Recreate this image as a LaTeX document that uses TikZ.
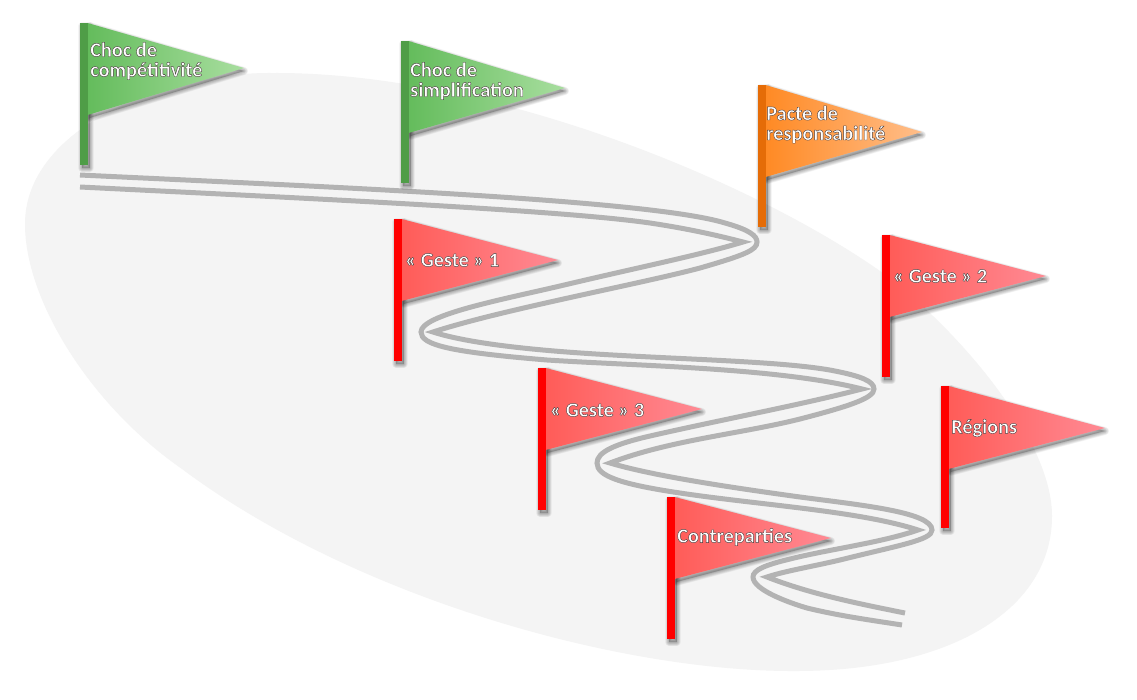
\documentclass[tikz,border=0pt]{standalone}
\usepackage{fontspec}
\setmainfont{Carlito}
\definecolor{landc}{HTML}{F4F4F4}
\definecolor{roadc}{HTML}{B3B3B3}
\definecolor{gpole}{HTML}{4F9D47}
\definecolor{gl}{HTML}{64BC5C}
\definecolor{gr}{HTML}{A8DE9F}
\definecolor{opole}{HTML}{E56C07}
\definecolor{ol}{HTML}{FF8A24}
\definecolor{or}{HTML}{FFBE8A}
\definecolor{rpole}{HTML}{FF0000}
\definecolor{rl}{HTML}{FF5C58}
\definecolor{rr}{HTML}{FF8A94}
\tikzset{
  x=1pt,y=-1pt,
  road/.style={draw=roadc,line width=5pt,line join=miter,miter limit=30,line cap=butt},
  softedge/.style={draw=black,opacity=.04,line join=round},
  softcore/.style={fill=black,opacity=.2},
  flagtext/.style={text=white,font=\bfseries\fontsize{20.3}{20}\selectfont,align=left,anchor=west,inner sep=0pt},
}
\newcommand\haloed[1]{\special{pdf:code 2 Tr 0.42 w 0.3 0.25 0.25 RG}#1\special{pdf:code 0 Tr}}
% #1 name, #2 x, #3 y, #4 tip dy, #5 bottom dy, #6 pole, #7 left, #8 right, #9 label offset
\newcommand\flagat[9]{%
  \begin{scope}[shift={(#2,#3)}]
    \begin{scope}[shift={(2,3)}]
      \path[softcore] (0,0) rectangle (7.5,142);
      \path[softcore] (7.5,0) -- (162,#4) -- (7.5,#5) -- cycle;
      \foreach \w in {1,2,3,4,5,6,7,8} {
        \path[softedge,line width=\w pt] (0,0) rectangle (7.5,142);
        \path[softedge,line width=\w pt] (7.5,0) -- (162,#4) -- (7.5,#5) -- cycle;
      }
    \end{scope}
    \path[left color=#7,right color=#8] (7.5,0) -- (164,#4) -- (7.5,#5) -- cycle;
    \fill[#6] (0,0) rectangle (7.5,142);
    \coordinate (#1) at #9;
  \end{scope}}
\begin{document}
\begin{tikzpicture}
\useasboundingbox (0,0) rectangle (1137,699);
\fill[white] (0,0) rectangle (1137,699);
\fill[landc] (25,224) .. controls (25,130) and (160,72) .. (273,73) .. controls (490,72) and (750,180) .. (880,271) .. controls (960,330) and (1052,440) .. (1052,516) .. controls (1052,610) and (950,671) .. (796,671) .. controls (620,672) and (355,598) .. (182,469) .. controls (90,405) and (25,300) .. (25,224) -- cycle;
% road
\draw[road] (80,175) .. controls (330,187) and (650,200) .. (725,223) .. controls (750,230) and (757,236) .. (757,242) .. controls (757,250) and (745,255) .. (700,268) .. controls (640,284) and (500,310) .. (433,332)
  .. controls (470,344) and (540,351) .. (613,355) .. controls (700,360) and (790,362) .. (835,371) .. controls (860,376) and (874,381) .. (874,389) .. controls (874,398) and (850,406) .. (800,419) .. controls (740,434) and (670,440) .. (610,463)
  .. controls (650,475) and (720,486) .. (800,497) .. controls (860,505) and (932,512) .. (932,530) .. controls (932,540) and (900,545) .. (840,560) .. controls (810,567) and (785,571) .. (767,577)
  .. controls (810,594) and (860,604) .. (905,613);
\draw[road] (80,187) .. controls (300,198) and (560,210) .. (650,223) .. controls (690,229) and (720,236) .. (743,242)
  .. controls (700,255) and (640,267) .. (560,286) .. controls (500,300) and (421,315) .. (421,332) .. controls (421,345) and (450,352) .. (547,360) .. controls (640,366) and (780,368) .. (862,389)
  .. controls (800,405) and (720,420) .. (650,436) .. controls (615,444) and (597,452) .. (597,463) .. controls (597,476) and (620,484) .. (680,493) .. controls (760,505) and (860,511) .. (918,530)
  .. controls (880,543) and (830,549) .. (790,559) .. controls (765,565) and (753,570) .. (753,577) .. controls (753,590) and (790,603) .. (807,608) .. controls (840,616) and (870,620) .. (902,625);
% flags
\flagat{c1}{80}{23}{45}{92}{gpole}{gl}{gr}{(10,38)}
\flagat{c2}{401}{41}{47}{92}{gpole}{gl}{gr}{(9,40)}
\flagat{c3}{758}{85}{47}{92}{opole}{ol}{or}{(8,39.5)}
\flagat{c4}{394}{219}{41}{82}{rpole}{rl}{rr}{(11,41)}
\flagat{c5}{882}{235}{41}{82}{rpole}{rl}{rr}{(11,41)}
\flagat{c6}{538}{368}{41}{82}{rpole}{rl}{rr}{(12,42)}
\flagat{c7}{667}{497}{41}{82}{rpole}{rl}{rr}{(10,40)}
\flagat{c8}{941}{386}{42}{83}{rpole}{rl}{rr}{(10,42)}
\node[flagtext] (t1) at (c1) {\haloed{Choc de}\\\haloed{compétitivité}};
\node[flagtext] (t2) at (c2) {\haloed{Choc de}\\\haloed{simplification}};
\node[flagtext] (t3) at (c3) {\haloed{Pacte de}\\\haloed{responsabilité}};
\node[flagtext] (t4) at (c4) {\haloed{« Geste » 1}};
\node[flagtext] (t5) at (c5) {\haloed{« Geste » 2}};
\node[flagtext] (t6) at (c6) {\haloed{« Geste » 3}};
\node[flagtext] (t7) at (c7) {\haloed{Contreparties}};
\node[flagtext] (t8) at (c8) {\haloed{Régions}};
\end{tikzpicture}
\end{document}
